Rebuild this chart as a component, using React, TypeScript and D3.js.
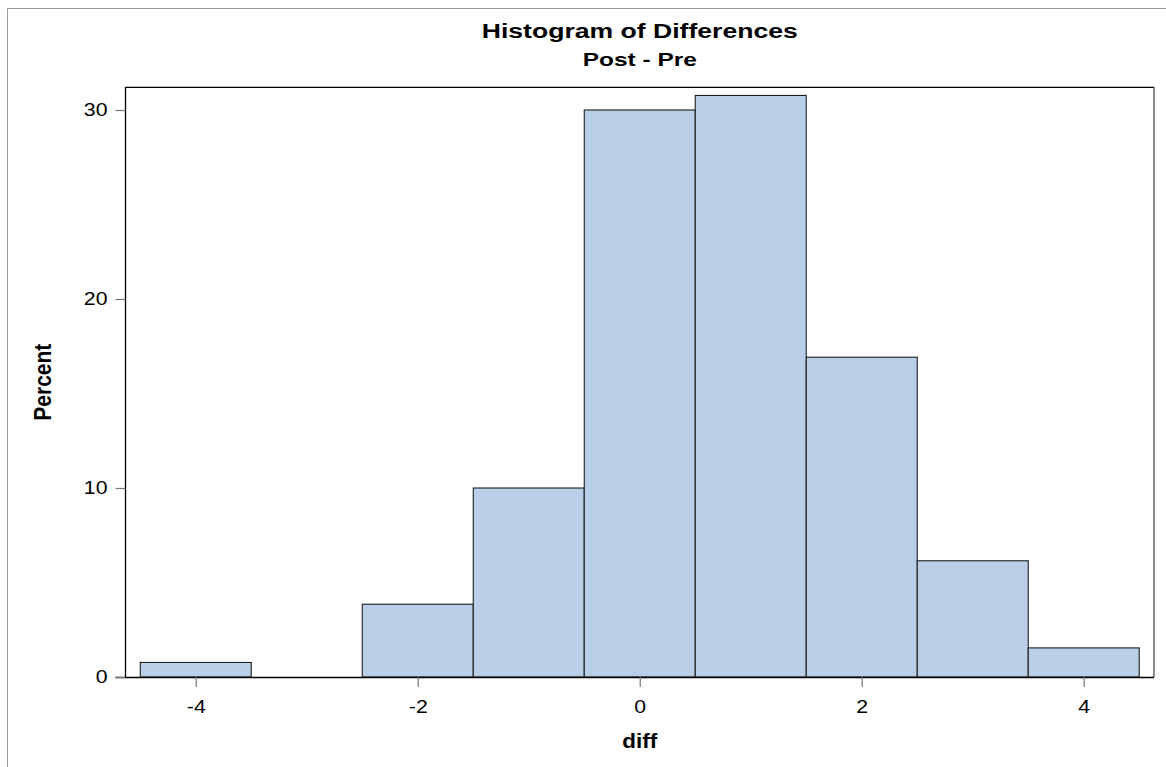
import React, { useEffect, useRef } from 'react';
import * as d3 from 'd3';

// Histogram of Post - Pre differences (percent of observations per unit bin)
const binCenters = [-4, -3, -2, -1, 0, 1, 2, 3, 4];
const percents = [0.77, 0, 3.85, 10, 30, 30.77, 16.92, 6.15, 1.54];
const xTicks = [-4, -2, 0, 2, 4];
const yTicks = [0, 10, 20, 30];
const binWidth = 1;

const W = 1166;
const H = 767;
const FONT = '"Liberation Sans", Arial, sans-serif';
const STRETCH = 1.15; // the reference's text is slightly wide

export default function App() {
  const svgRef = useRef<SVGSVGElement | null>(null);

  useEffect(() => {
    if (!svgRef.current) return;
    const plot = { left: 125.5, right: 1154, top: 87.3, bottom: 677 };

    const root = d3.select(svgRef.current);
    root.selectAll('*').remove();
    const svg = root.attr('width', W).attr('height', H);

    svg.append('rect').attr('width', W).attr('height', H).attr('fill', '#fff');

    // outer page frame
    svg.append('path')
      .attr('d', `M7.5,${H} V8.5 H${W}`)
      .attr('fill', 'none')
      .attr('stroke', '#9a9a9a')
      .attr('stroke-width', 1);

    const x = d3.scaleLinear()
      .domain([-4.633, 4.633])
      .range([plot.left, plot.right]);

    const y = d3.scaleLinear()
      .domain([0, 30])
      .range([plot.bottom, 110]);

    // bars
    const bins = binCenters.map((c, i) => ({ c, v: percents[i] })).filter(d => d.v > 0);
    svg.selectAll('.bar')
      .data(bins)
      .enter()
      .append('rect')
      .attr('class', 'bar')
      .attr('x', d => x(d.c - binWidth / 2))
      .attr('width', d => x(d.c + binWidth / 2) - x(d.c - binWidth / 2))
      .attr('y', d => y(d.v))
      .attr('height', d => y(0) - y(d.v))
      .attr('fill', '#b9cfe7')
      .attr('stroke', '#1e1e1e')
      .attr('stroke-width', 1.1);

    // plot frame
    svg.append('line')
      .attr('x1', plot.right).attr('x2', plot.right)
      .attr('y1', plot.top).attr('y2', plot.bottom)
      .attr('stroke', '#8a8a8a').attr('stroke-width', 2);
    svg.append('path')
      .attr('d', `M${plot.left},${plot.bottom} V${plot.top} H${plot.right}`)
      .attr('fill', 'none').attr('stroke', '#000').attr('stroke-width', 1.3);

    const plain = (d: d3.NumberValue) => String(d);

    // x axis
    const gx = svg.append('g')
      .attr('transform', `translate(0,${plot.bottom})`)
      .call(d3.axisBottom(x).tickValues(xTicks).tickSize(10).tickPadding(13).tickFormat(plain));
    gx.select('.domain').attr('d', `M${plot.left - 10},0.5H${plot.right}`).attr('stroke', '#000').attr('stroke-width', 1.3);
    gx.selectAll('.tick line').attr('stroke', '#777').attr('stroke-width', 1.2);
    gx.selectAll('.tick text')
      .attr('fill', '#000')
      .attr('font-size', 18.5)
      .attr('font-family', FONT)
      .attr('transform', `scale(${STRETCH},1)`);

    // y axis
    const gy = svg.append('g')
      .attr('transform', `translate(${plot.left},0)`)
      .call(d3.axisLeft(y).tickValues(yTicks).tickSize(10).tickPadding(8).tickFormat(plain));
    gy.select('.domain').remove();
    gy.selectAll('.tick line').attr('stroke', '#777').attr('stroke-width', 1.2);
    gy.selectAll('.tick text')
      .attr('fill', '#000')
      .attr('font-size', 18.5)
      .attr('font-family', FONT)
      .attr('x', -18 / STRETCH)
      .attr('transform', `scale(${STRETCH},1)`);

    const label = (txt: string, cx: number, cy: number, size: number, rotate = 0, len?: number) => {
      const t = svg.append('text')
        .attr('transform', `translate(${cx},${cy}) rotate(${rotate}) scale(${rotate ? 1 : STRETCH},${rotate ? STRETCH : 1})`)
        .attr('text-anchor', 'middle')
        .attr('font-family', FONT)
        .attr('font-weight', 'bold')
        .attr('font-size', size)
        .attr('fill', '#000')
        .text(txt);
      if (len) t.attr('textLength', len).attr('lengthAdjust', 'spacingAndGlyphs');
      return t;
    };

    const cx = (plot.left + plot.right) / 2;
    label('Histogram of Differences', cx, 38, 21, 0, 316 / STRETCH);
    label('Post - Pre', cx, 65.5, 17.5, 0, 114 / STRETCH);
    label('diff', cx, 748, 19.5);
    label('Percent', 50.5, (plot.top + plot.bottom) / 2, 21, -90);
  }, []);

  return <svg ref={svgRef} style={{ position: 'absolute', left: 0, top: 0, display: 'block' }} />;
}
